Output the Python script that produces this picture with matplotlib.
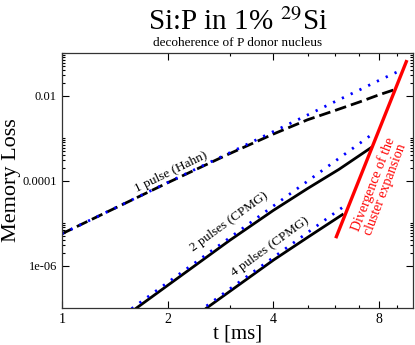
import numpy as np
import matplotlib
matplotlib.use('Agg')
import matplotlib.pyplot as plt
from matplotlib.ticker import FixedLocator, NullFormatter

# valores (t em ms, perda de memoria)
t_hahn_blue = [1.0, 2.0, 3.0, 4.0, 5.0, 6.0, 7.0, 8.0, 9.12]
y_hahn_blue = [5.6e-6, 9.0e-5, 4.5e-4, 1.43e-3, 3.5e-3, 7.3e-3, 1.34e-2, 2.3e-2, 3.8e-2]
t_hahn_black = [1.0, 2.0, 3.0, 4.0, 5.0, 6.0, 7.0, 8.0, 9.0]
y_hahn_black = [5.6e-6, 8.9e-5, 4.3e-4, 1.25e-3, 2.7e-3, 4.5e-3, 7.0e-3, 1.05e-2, 1.45e-2]

t_cpmg2_blue = [1.5, 2.0, 3.0, 4.0, 5.0, 6.0, 7.0, 7.74]
y_cpmg2_blue = [7.1e-8, 4.0e-7, 4.5e-6, 2.54e-5, 9.7e-5, 2.9e-4, 7.3e-4, 1.34e-3]
t_cpmg2_black = [1.63, 3.0, 4.0, 5.0, 6.15, 7.59]
y_cpmg2_black = [1.0e-7, 3.9e-6, 2.0e-5, 6.5e-5, 1.85e-4, 6.0e-4]

t_cpmg4_blue = [2.45, 3.0, 4.0, 5.0, 6.0, 6.45]
y_cpmg4_blue = [8.2e-8, 2.8e-7, 1.56e-6, 5.97e-6, 1.78e-5, 2.72e-5]
t_cpmg4_black = [2.58, 4.0, 5.0, 6.28]
y_cpmg4_black = [1.0e-7, 1.35e-6, 4.6e-6, 1.58e-5]

t_diverg = [6.04, 9.55]
y_diverg = [4.8e-6, 0.063]

x_ticks = [1, 2, 4, 8]
x_minor = [3, 5, 6, 7, 9]
y_ticks = [1e-6, 1e-4, 1e-2]
y_tick_labels = ['1e-06', '0.0001', '0.01']

plt.rcParams['font.family'] = ['Liberation Serif', 'DejaVu Serif']
plt.rcParams['mathtext.fontset'] = 'stix'

fig = plt.figure(figsize=(4.15, 3.45), dpi=100)
ax = fig.add_axes([0.149, 0.107, 0.847, 0.739])

dash = (0, (4.2, 1.8))
dots = (0, (0.8, 2.7))

ax.plot(t_hahn_black, y_hahn_black, color='black', lw=2, linestyle=dash)
ax.plot(t_cpmg2_black, y_cpmg2_black, color='black', lw=2)
ax.plot(t_cpmg4_black, y_cpmg4_black, color='black', lw=2)
ax.plot(t_hahn_blue, y_hahn_blue, color='#0000ff', lw=2, linestyle=dots)
ax.plot(t_cpmg2_blue, y_cpmg2_blue, color='#0000ff', lw=2, linestyle=dots)
ax.plot(t_cpmg4_blue, y_cpmg4_blue, color='#0000ff', lw=2, linestyle=dots)
ax.plot(t_diverg, y_diverg, color='#ff0000', lw=2.4)

ax.set_xscale('log')
ax.set_yscale('log')
ax.set_xlim(1, 10)
ax.set_ylim(1e-7, 0.1)

ax.xaxis.set_major_locator(FixedLocator(x_ticks))
ax.xaxis.set_minor_locator(FixedLocator(x_minor))
ax.set_xticklabels([str(v) for v in x_ticks])
ax.xaxis.set_minor_formatter(NullFormatter())

# minor ticks so na decada acima de cada major
y_minor = [k * m for m in [1e-6, 1e-4, 1e-2] for k in range(2, 11)]
ax.yaxis.set_major_locator(FixedLocator(y_ticks))
ax.yaxis.set_minor_locator(FixedLocator(y_minor))
ax.set_yticklabels(y_tick_labels)
ax.yaxis.set_minor_formatter(NullFormatter())

ax.tick_params(which='both', direction='in', top=True, right=True)
ax.tick_params(axis='x', labelsize=10)
ax.tick_params(axis='y', labelsize=9)
ax.tick_params(which='major', length=5, width=0.8)
ax.tick_params(which='minor', length=2.5, width=0.8)
for s in ax.spines.values():
    s.set_linewidth(0.9)
    s.set_color('#333333')

ax.set_xlabel('t [ms]', fontsize=15, labelpad=-1)
ax.set_ylabel('Memory Loss', fontsize=16, labelpad=1)

ax.text(2.05, 1.6e-4, '1 pulse (Hahn)', fontsize=9.5, rotation=26,
        ha='center', va='center', rotation_mode='anchor')
ax.text(3.0, 1.05e-5, '2 pulses (CPMG)', fontsize=9.5, rotation=36,
        ha='center', va='center', rotation_mode='anchor')
ax.text(3.9, 2.7e-6, '4 pulses (CPMG)', fontsize=9.5, rotation=36,
        ha='center', va='center', rotation_mode='anchor')
ax.text(8.0, 7.2e-5, 'Divergence of the\ncluster expansion', fontsize=10,
        rotation=69, color='#ff0000', ha='center', va='center',
        rotation_mode='anchor', linespacing=1.0)

fig.text(0.572, 0.935, 'Si:P in 1% $^{29}$Si', fontsize=21, ha='center', va='center')
fig.text(0.572, 0.876, 'decoherence of P donor nucleus', fontsize=9.5, ha='center', va='center')

fig.savefig('out.png', dpi=100)
plt.close(fig)
